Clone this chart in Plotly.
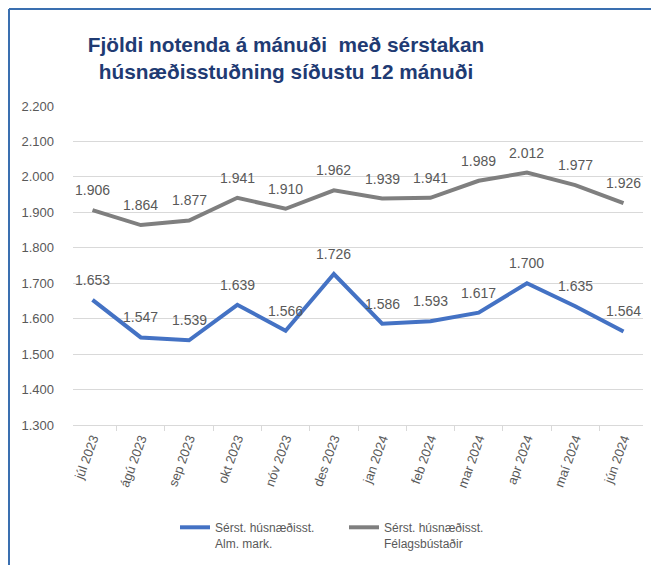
import plotly.graph_objects as go

months = ["júl 2023", "ágú 2023", "sep 2023", "okt 2023", "nóv 2023", "des 2023",
          "jan 2024", "feb 2024", "mar 2024", "apr 2024", "maí 2024", "jún 2024"]
alm_mark = [1653, 1547, 1539, 1639, 1566, 1726, 1586, 1593, 1617, 1700, 1635, 1564]
felagsbustadir = [1906, 1864, 1877, 1941, 1910, 1962, 1939, 1941, 1989, 2012, 1977, 1926]

name_alm = "Sérst. húsnæðisst.<br>Alm. mark."
name_fel = "Sérst. húsnæðisst.<br>Félagsbústaðir"

BLUE = "#4472C4"
GREY = "#7F7F7F"
TXT = "#595959"
FONT = "Liberation Sans, Arial, sans-serif"

fig = go.Figure()
fig.add_trace(go.Scatter(x=months, y=alm_mark, mode="lines", name=name_alm,
                         line=dict(color=BLUE, width=4), legend="legend"))
fig.add_trace(go.Scatter(x=months, y=felagsbustadir, mode="lines", name=name_fel,
                         line=dict(color=GREY, width=4), legend="legend2"))

for series in (alm_mark, felagsbustadir):
    for m, v in zip(months, series):
        fig.add_annotation(x=m, y=v, text=f"{v:,}".replace(",", "."), showarrow=False,
                           yshift=20, font=dict(family=FONT, size=14, color=TXT))

# page has an 8px body margin; coordinates below are figure pixels
L, R, T, B = 65, 24, 98, 148
W, H = 659, 565
pw, ph = W - L - R, H - T - B

def px(x):
    return (x - L) / pw

def py(y):
    return (H - B - y) / ph

border = "#3A6FB0"
fig.add_shape(type="line", xref="paper", yref="paper", x0=px(1), x1=px(W + 5), y0=py(1), y1=py(1),
              line=dict(color=border, width=2))
fig.add_shape(type="line", xref="paper", yref="paper", x0=px(1), x1=px(1), y0=py(1), y1=py(H + 5),
              line=dict(color=border, width=2))

leg_common = dict(orientation="h", xanchor="left", yanchor="top", valign="top", itemwidth=30,
                  font=dict(family=FONT, size=12, color=TXT), bgcolor="rgba(0,0,0,0)")

fig.update_layout(
    width=W, height=H,
    margin=dict(l=L, r=R, t=T, b=B, autoexpand=False),
    paper_bgcolor="white", plot_bgcolor="white",
    separators=",.",
    font=dict(family=FONT, color=TXT, size=13),
    title=dict(text="Fjöldi notenda á mánuði  með sérstakan<br>húsnæðisstuðning síðustu 12 mánuði",
               x=278 / W, xanchor="center", xref="container",
               y=1 - 44 / H, yanchor="top", yref="container",
               font=dict(family="Liberation Sans, Arial",
                         size=20.8, color="#1F3B73", weight="bold")),
    showlegend=True,
    legend=dict(x=px(167), y=py(505), **leg_common),
    legend2=dict(x=px(336), y=py(505), **leg_common),
)
fig.update_xaxes(type="category", tickangle=-70, showgrid=False,
                 showline=True, linecolor="#D9D9D9", linewidth=1,
                 ticks="outside", tickson="boundaries", ticklen=5, tickcolor="#D9D9D9",
                 tickfont=dict(family=FONT, size=13, color=TXT), fixedrange=True)
fig.update_yaxes(range=[1300, 2200], dtick=100, tickformat=",.0f",
                 showgrid=True, gridcolor="#D9D9D9", gridwidth=1, zeroline=False,
                 showline=False, ticks="", ticklabelstandoff=18,
                 tickfont=dict(family=FONT, size=13, color=TXT), fixedrange=True)

fig.write_html("out.html")
